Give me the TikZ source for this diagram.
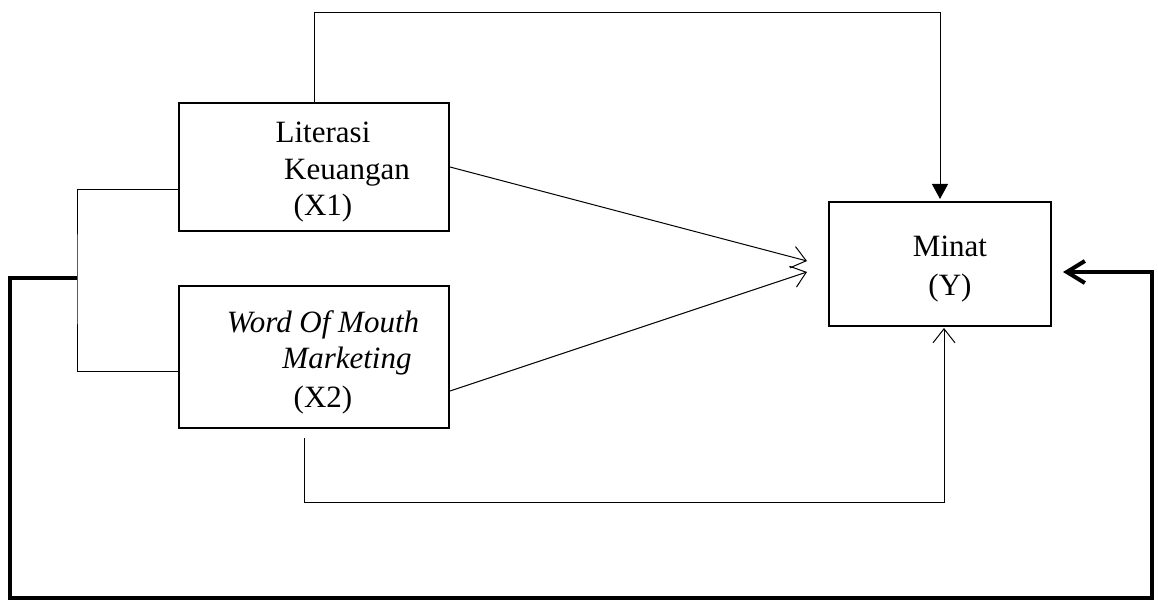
\documentclass[tikz,border=0pt]{standalone}
\usepackage{fontspec}
\setmainfont{Liberation Serif}
\usetikzlibrary{arrows.meta}
\tikzset{
  box/.style={draw, line width=2pt, inner sep=0pt, minimum width=270pt},
  lbl/.style={anchor=base, inner sep=0pt, font=\fontsize{31}{37}\selectfont},
  thin/.style={line width=1pt},
  openarrow/.style={thin, -{Straight Barb[length=14pt,width=22pt,line width=1pt]}},
  fillarrow/.style={thin, -{Triangle[length=15pt,width=16pt]}},
  thickloop/.style={line width=4pt, line join=miter, -{Straight Barb[length=18pt,width=22pt,line width=4pt]}}
}
\begin{document}
\begin{tikzpicture}[x=1pt,y=-1pt]
\useasboundingbox (0,0) rectangle (1158,601);
\fill[white] (0,0) rectangle (1158,601);
% boxes
\node[box, minimum height=128pt] (X1) at (314,167) {};
\node[box, minimum height=142pt] (X2) at (314,357) {};
\node[box, minimum width=222pt, minimum height=124pt] (Y) at (940,264) {};
% labels
\node[lbl] (t1) at (323,143) {Literasi};
\node[lbl] (t2) at (347,180) {Keuangan};
\node[lbl] (t3) at (323,216) {(X1)};
\node[lbl] (t4) at (323,332) {\itshape Word Of Mouth};
\node[lbl] (t5) at (347,368) {\itshape Marketing};
\node[lbl] (t6) at (323,407) {(X2)};
\node[lbl] (t7) at (950,257) {Minat};
\node[lbl] (t8) at (950,295) {(Y)};
% coordinates
\coordinate (J) at (77,278);
\coordinate (TL) at (10,278);
\coordinate (BL) at (10,598);
\coordinate (BR) at (1152,598);
\coordinate (RR) at (1152,272);
% connectors
\draw[fillarrow] (X1.north) -- ++(0,-89) -| ([yshift=2pt]Y.north);
\draw[openarrow] (X1.east) -- ([xshift=-21pt,yshift=3pt]Y.west);
\draw[openarrow] ([yshift=-34pt]X2.east) -- ([xshift=-21pt,yshift=-8pt]Y.west);
\draw[openarrow] ([xshift=-10pt,yshift=-9pt]X2.south) -- ++(0,64) -| ([xshift=4pt,yshift=-1pt]Y.south);
\draw[thin] ([yshift=-23pt]X1.west) -| (J) |- ([yshift=-14pt]X2.west);
\draw[thickloop] (J) -- (TL) -- (BL) -- (BR) -- (RR) -- ([xshift=11pt,yshift=-8pt]Y.east);
\end{tikzpicture}
\end{document}
